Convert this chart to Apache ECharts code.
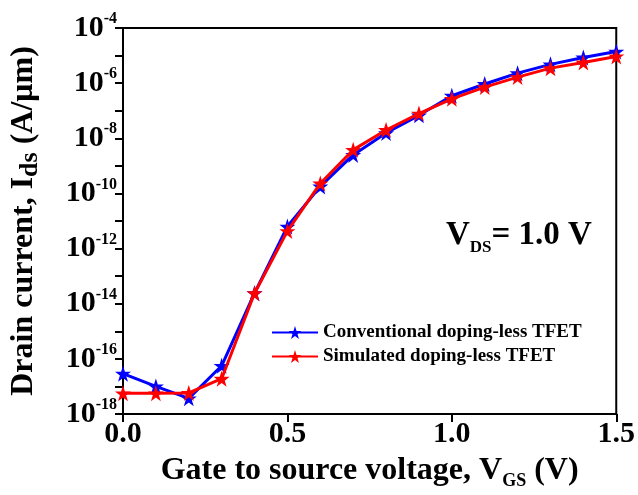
<!DOCTYPE html>
<html><head><meta charset="utf-8">
<script src="https://cdn.jsdelivr.net/npm/echarts@6/dist/echarts.min.js"></script>
<style>html,body{margin:0;padding:0;background:#fff}#c{width:638px;height:495px}</style>
</head><body><div id="c"></div>
<script>
const vgs = [0.0,0.1,0.2,0.3,0.4,0.5,0.6,0.7,0.8,0.9,1.0,1.1,1.2,1.3,1.4,1.5];
const conventional = [2.9e-17,1.0e-17,3.7e-18,5.6e-17,2.4e-14,6.3e-12,1.8e-10,2.5e-9,1.55e-8,6.8e-8,3.5e-7,9.3e-7,2.3e-6,4.8e-6,8.5e-6,1.4e-5];
const simulated = [5.6e-18,5.6e-18,5.8e-18,1.9e-17,2.4e-14,4.3e-12,2.3e-10,3.8e-9,2.0e-8,7.9e-8,2.7e-7,7.2e-7,1.66e-6,3.5e-6,5.6e-6,9.3e-6];
const seriesNames = ['Conventional doping-less TFET','Simulated doping-less TFET'];
const serif = '"Liberation Serif","Times New Roman",serif';
const star = 'path://M50,0 L61.8,35.3 L99,35.3 L69,57.3 L80.4,92.7 L50,70.9 L19.6,92.7 L31,57.3 L1,35.3 L38.2,35.3 Z';

const chart = echarts.init(document.getElementById('c'));
const pair = (ys) => vgs.map((x,i)=>[x,ys[i]]);
chart.setOption({
  animation:false,
  grid:{left:120,right:17,top:28,bottom:74,show:true,borderColor:'#000',borderWidth:2},
  legend:{
    left:266,top:318,orient:'vertical',itemGap:5,itemWidth:46,itemHeight:16,
    textStyle:{fontFamily:serif,fontWeight:'bold',fontSize:19,color:'#000'},
    data:seriesNames
  },
  xAxis:{
    type:'value',min:0,max:1.5,interval:0.5,
    axisLine:{lineStyle:{color:'#000',width:2}},
    axisTick:{length:8,lineStyle:{color:'#000',width:2}},
    splitLine:{show:false},
    axisLabel:{fontFamily:serif,fontWeight:'bold',fontSize:30,color:'#000',margin:5,
      formatter:v=>v.toFixed(1)},
    name:'{a|Gate to source voltage, V}{s|GS}{a| (V)}',nameLocation:'middle',nameGap:38,
    nameTextStyle:{rich:{
      a:{fontFamily:serif,fontWeight:'bold',fontSize:32,color:'#000'},
      s:{fontFamily:serif,fontWeight:'bold',fontSize:18,color:'#000',padding:[20,0,0,0]}
    }}
  },
  yAxis:{
    type:'log',logBase:10,min:1e-18,max:1e-4,interval:1,
    axisLine:{lineStyle:{color:'#000',width:2}},
    axisTick:{length:8,lineStyle:{color:'#000',width:2}},
    splitLine:{show:false},
    axisLabel:{margin:6,
      formatter:v=>{const e=Math.round(Math.log10(v)); return (e%2===0)?'{b|10}{e|'+e+'}':'';},
      rich:{
        b:{fontFamily:serif,fontWeight:'bold',fontSize:30,color:'#000'},
        e:{fontFamily:serif,fontWeight:'bold',fontSize:16,color:'#000',padding:[0,0,18,0]}
      }},
    name:'{a|Drain current, I}{s|ds}{a| (A/μm)}',nameLocation:'middle',nameGap:80,
    nameTextStyle:{rich:{
      a:{fontFamily:serif,fontWeight:'bold',fontSize:32,color:'#000'},
      s:{fontFamily:serif,fontWeight:'bold',fontSize:26,color:'#000',padding:[12,0,0,0]}
    }}
  },
  graphic:[{
    type:'text',left:446,top:219,
    style:{text:'{v|V}{s|DS}{v|= 1.0 V}',rich:{
      v:{fontFamily:serif,fontWeight:'bold',fontSize:33,fill:'#000'},
      s:{fontFamily:serif,fontWeight:'bold',fontSize:17,fill:'#000',padding:[24,0,0,0]}
    }}
  }],
  series:[
    {name:seriesNames[0],type:'line',data:pair(conventional),symbol:star,
     symbolSize:16,lineStyle:{color:'#0000ff',width:3},itemStyle:{color:'#0000ff'},color:'#0000ff',z:2},
    {name:seriesNames[1],type:'line',data:pair(simulated),symbol:star,
     symbolSize:16,lineStyle:{color:'#ff0000',width:3},itemStyle:{color:'#ff0000'},color:'#ff0000',z:3}
  ]
});
</script></body></html>
